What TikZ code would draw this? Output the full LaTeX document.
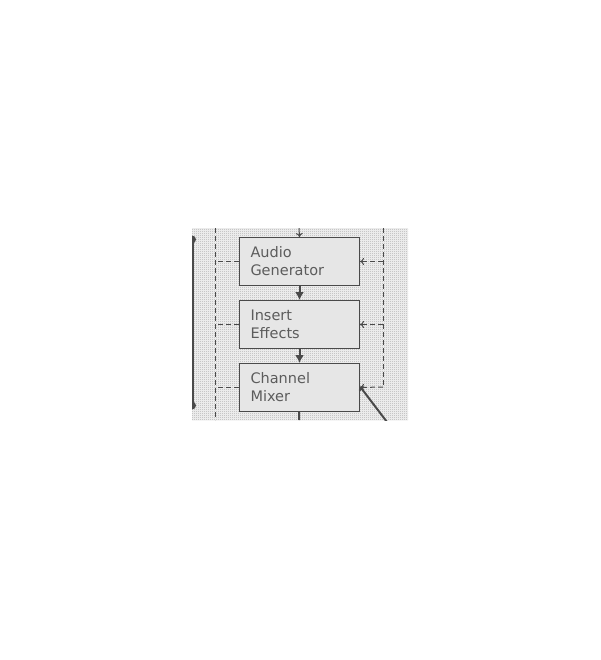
\documentclass[tikz,border=0pt]{standalone}
\usepackage{fontspec}
\usepackage{tikz}
\usetikzlibrary{arrows.meta,patterns}
\newfontfamily\blockfont{DejaVu Sans}
\definecolor{inkgray}{HTML}{4A4A4A}
\definecolor{boxgray}{HTML}{E6E6E6}
\newcommand{\sidesep}{11pt}
\pgfdeclarepatternformonly{checker}{\pgfqpoint{0pt}{0pt}}{\pgfqpoint{2pt}{2pt}}{\pgfqpoint{2pt}{2pt}}{
  \pgfpathrectangle{\pgfqpoint{0pt}{0pt}}{\pgfqpoint{1pt}{1pt}}
  \pgfpathrectangle{\pgfqpoint{1pt}{1pt}}{\pgfqpoint{1pt}{1pt}}
  \pgfusepath{fill}}

\begin{document}
\begin{tikzpicture}[x=1pt,y=-1pt,
    block/.style={draw=inkgray, fill=boxgray, line width=1pt, anchor=north west,
      minimum width=120pt, minimum height=48pt, inner xsep=\sidesep,
      text width=120pt-2*\sidesep, align=left, text=inkgray!90,
      font=\blockfont\fontsize{14.5}{18}\selectfont},
    flow/.style={draw=inkgray, line width=2pt, -{Latex[length=8pt,width=9pt]}},
    ctrl/.style={draw=inkgray, line width=1pt, dash pattern=on 5pt off 3pt},
    feed/.style={ctrl, -{To[length=4pt,width=7pt]}}]
    \useasboundingbox (0,0) rectangle (600,660);
    \begin{scope}
        \clip (192,228) rectangle (408,420);
        \fill[black!4] (192,228) rectangle (408,420);
        \fill[pattern=checker, pattern color=black!32] (192,228) rectangle (408,420);
        % boxes
        \node[block] (gen) at (239,237) {Audio\\Generator};
        \node[block] (ins) at (239,300) {Insert\\Effects};
        \node[block] (mix) at (239,363) {Channel\\Mixer};
        % free ends outside the crop
        \coordinate (intop) at (299,228);
        \coordinate (outbot) at (299,420);
        \coordinate (ltop) at (215,228);
        \coordinate (lbot) at (215,420);
        \coordinate (rtop) at (383,228);
        \coordinate (rbot) at (383,387);
        \coordinate (diag) at (387,422);
        \coordinate (bustop) at (193,237);
        \coordinate (busbot) at (193,408);
        % signal chain
        \draw[draw=inkgray, line width=1pt, -{To[length=4pt,width=7pt]}] (intop) -- (gen.north);
        \draw[flow] (gen) -- (ins);
        \draw[flow] (ins) -- (mix);
        \draw[draw=inkgray, line width=2pt] (mix) -- (outbot);
        % left dashed bus
        \draw[ctrl] (ltop) -- (lbot);
        \draw[ctrl] (gen.west) -- (gen.west -| ltop);
        \draw[ctrl] (ins.west) -- (ins.west -| ltop);
        \draw[ctrl] (mix.west) -- (mix.west -| ltop);
        % right dashed bus
        \draw[ctrl] (rtop) -- (rbot);
        \draw[feed] (gen.east -| rtop) -- (gen.east);
        \draw[feed] (ins.east -| rtop) -- (ins.east);
        \draw[feed] (rbot) -- (mix.east);
        % diagonal input
        \draw[draw=inkgray, line width=2pt, -{To[length=4pt,width=7pt]}] (diag) -- ([yshift=1pt]mix.east);
        % solid bus on the left
        \draw[draw=inkgray, line width=2pt] (bustop) -- (busbot);
        \fill[inkgray] (bustop) ++(-1,2.5) circle (4);
        \fill[inkgray] (busbot) ++(-1,-2.5) circle (4);
    \end{scope}
\end{tikzpicture}
\end{document}
